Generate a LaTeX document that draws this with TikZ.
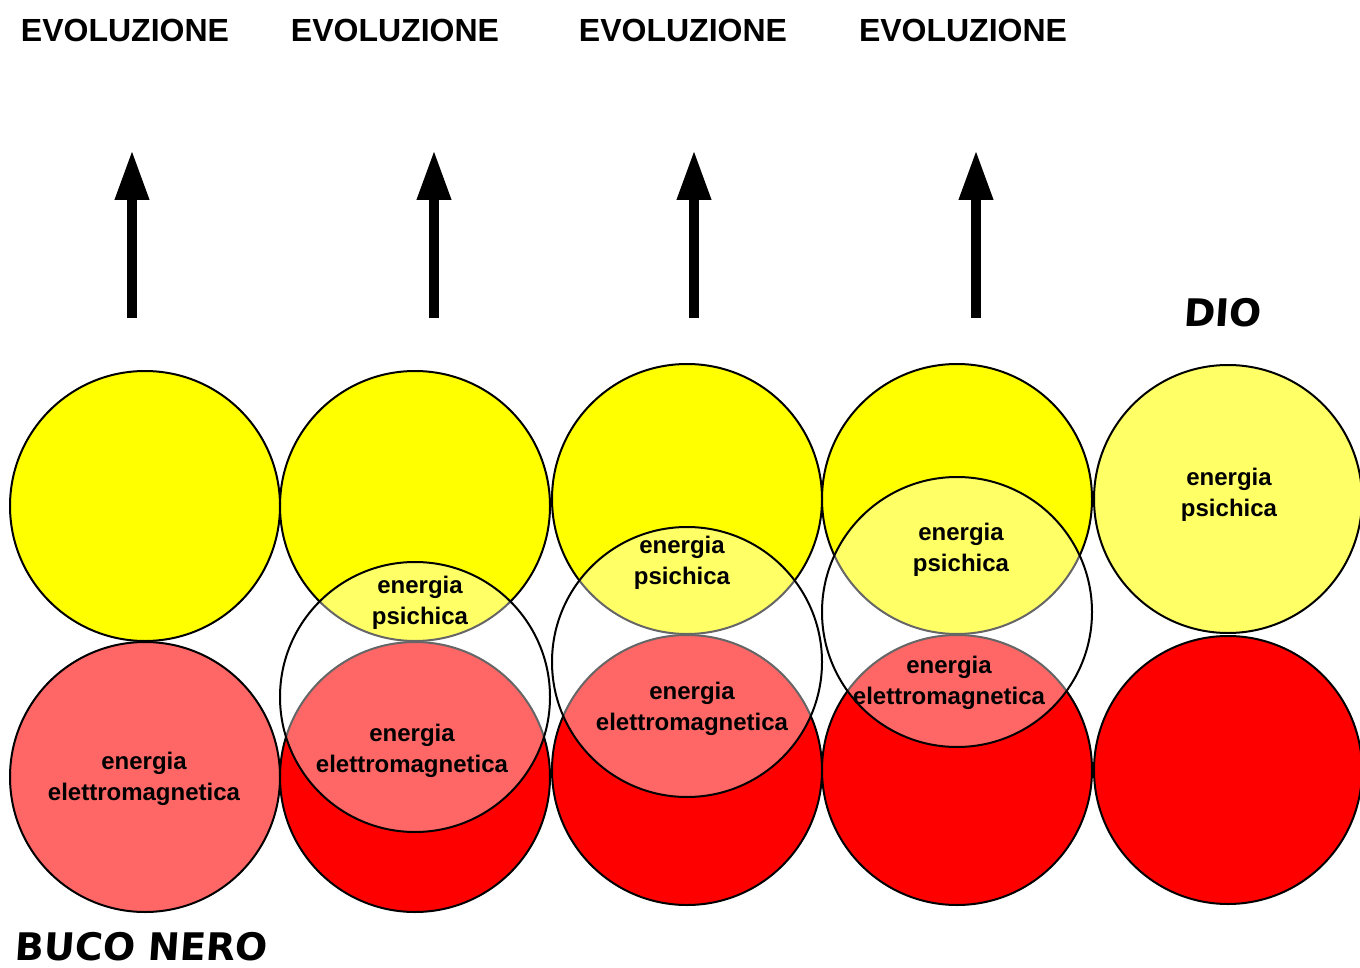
\documentclass[tikz,border=0pt]{standalone}
\usepackage{fontspec}
\setmainfont{Liberation Sans}
\newfontfamily\namefont[FakeSlant=0.07]{DejaVu Sans}
\usetikzlibrary{arrows.meta}

\definecolor{giallo}{HTML}{FFFF00}
\definecolor{rosso}{HTML}{FF0000}
\definecolor{giallochiaro}{HTML}{FFFF66}
\definecolor{rossochiaro}{HTML}{FF6666}

\begin{document}
\begin{tikzpicture}[x=0.5pt, y=-0.5pt,
    ball/.style={draw=black, line width=1pt},
    veil/.style={draw=black, line width=1pt, fill=white, fill opacity=0.4, draw opacity=1},
    energy/.style={font=\bfseries\fontsize{12}{15.5}\selectfont, align=center, inner sep=0pt},
    evo/.style={font=\bfseries\fontsize{16}{19}\selectfont, inner sep=0pt},
    pole/.style={font=\namefont\bfseries\fontsize{19}{22}\selectfont, inner sep=0pt},
    evo arrow/.style={line width=5pt, -{Triangle[width=16pt,length=25pt]}}]
    \useasboundingbox (0,0) rectangle (1360,968);

    % Evoluzione
    \node[evo] (evo1) at (125,30) {EVOLUZIONE};
    \node[evo] (evo2) at (395,30) {EVOLUZIONE};
    \node[evo] (evo3) at (683,30) {EVOLUZIONE};
    \node[evo] (evo4) at (963,30) {EVOLUZIONE};
    \foreach \i/\x in {1/132, 2/434, 3/694, 4/976} {
        \coordinate (base\i) at (\x,318);
        \coordinate (tip\i) at (\x,150);
        \draw[evo arrow] (base\i) -- (tip\i);
    }

    % Column 1
    \fill[giallo, ball] (145,506) circle (135);
    \fill[rossochiaro, ball] (145,777) circle (135);

    % Column 2
    \fill[giallo, ball] (415,506) circle (135);
    \fill[rosso, ball] (415,777) circle (135);
    \path[veil] (415,697) circle (135);

    % Column 3
    \fill[giallo, ball] (687,499) circle (135);
    \fill[rosso, ball] (687,770) circle (135);
    \path[veil] (687,662) circle (135);

    % Column 4
    \fill[giallo, ball] (957,499) circle (135);
    \fill[rosso, ball] (957,770) circle (135);
    \path[veil] (957,612) circle (135);

    % Column 5
    \fill[giallochiaro, ball] (1228,499) circle (134);
    \fill[rosso, ball] (1228,770) circle (134);

    % Energies
    \node[energy] (el1) at (144,779) {energia\\elettromagnetica};
    \node[energy] (ps2) at (420,603) {energia\\psichica};
    \node[energy] (el2) at (412,751) {energia\\elettromagnetica};
    \node[energy] (ps3) at (682,563) {energia\\psichica};
    \node[energy] (el3) at (692,709) {energia\\elettromagnetica};
    \node[energy] (ps4) at (961,550) {energia\\psichica};
    \node[energy] (el4) at (949,683) {energia\\elettromagnetica};
    \node[energy] (ps5) at (1229,495) {energia\\psichica};

    % Poles
    \node[pole] (dio) at (1222,313) {DIO};
    \node[pole] (buco) at (141,947) {BUCO NERO};
\end{tikzpicture}
\end{document}
